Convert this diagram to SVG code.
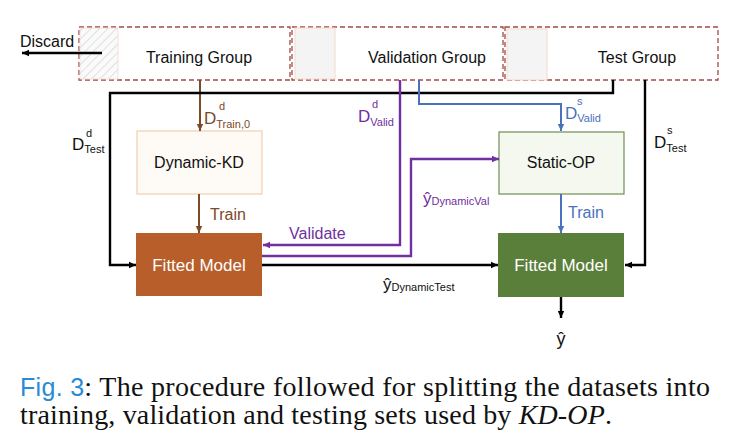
<svg xmlns="http://www.w3.org/2000/svg" width="745" height="445" viewBox="0 0 745 445">
<style>
.lbl{font-family:"Liberation Sans",Arial,sans-serif;font-size:16px;fill:#111}
.grp{fill:#fff;stroke:#a34a44;stroke-width:1.3;stroke-dasharray:5 3}
.inner{fill:#f4f4f4;stroke:#f6d9cc;stroke-width:1}
.blk{fill:none;stroke:#000;stroke-width:2.4}
.brn{fill:none;stroke:#7b4a28;stroke-width:2}
.pur{fill:none;stroke:#7030a0;stroke-width:2.4}
.blu{fill:none;stroke:#4a72bc;stroke-width:2}
.sub{font-size:11px}
.sup{font-size:11px}
.dl{font-size:17px}
.cap{font-family:"Liberation Serif","Times New Roman",serif;font-size:28px;fill:#111}
</style>
<defs>
<pattern id="hatch" width="6" height="6" patternUnits="userSpaceOnUse" patternTransform="rotate(45)">
<rect width="6" height="6" fill="#fafafa"/>
<line x1="0" y1="0" x2="0" y2="6" stroke="#cfcfcf" stroke-width="1.2"/>
</pattern>
<marker id="ak" markerWidth="8" markerHeight="8" refX="7" refY="4" orient="auto" markerUnits="userSpaceOnUse"><path d="M0,0.8 L7,4 L0,7.2 z" fill="#000"/></marker>
<marker id="ab" markerWidth="8" markerHeight="8" refX="7" refY="4" orient="auto" markerUnits="userSpaceOnUse"><path d="M0,0.8 L7,4 L0,7.2 z" fill="#7b4a28"/></marker>
<marker id="ap" markerWidth="8" markerHeight="8" refX="7" refY="4" orient="auto" markerUnits="userSpaceOnUse"><path d="M0,0.8 L7,4 L0,7.2 z" fill="#7030a0"/></marker>
<marker id="au" markerWidth="8" markerHeight="8" refX="7" refY="4" orient="auto" markerUnits="userSpaceOnUse"><path d="M0,0.8 L7,4 L0,7.2 z" fill="#4a72bc"/></marker>
</defs>
<rect width="745" height="445" fill="#fff"/>

<g id="training-group">
<rect class="grp" x="79" y="27" width="211" height="53"/>
<rect x="80" y="28" width="38" height="51" fill="url(#hatch)" stroke="#f6d9cc" stroke-width="0.8"/>
<text class="lbl" x="199" y="63" text-anchor="middle">Training Group</text>
</g>
<g id="validation-group">
<rect class="grp" x="292" y="27" width="211" height="53"/>
<rect class="inner" x="295" y="28" width="40" height="51"/>
<text class="lbl" x="427" y="63" text-anchor="middle">Validation Group</text>
</g>
<g id="test-group">
<rect class="grp" x="505" y="27" width="213" height="53"/>
<rect class="inner" x="507" y="29" width="40" height="51"/>
<text class="lbl" x="637" y="63" text-anchor="middle">Test Group</text>
</g>
<g id="discard">
<text class="lbl" x="20" y="47">Discard</text>
</g>
<g id="dynamic-kd">
<rect x="137" y="131" width="125" height="63" fill="#fefaf6" stroke="#f2cfae" stroke-width="1.2"/>
<text class="lbl" x="199" y="168" text-anchor="middle">Dynamic-KD</text>
</g>
<g id="static-op">
<rect x="499" y="132" width="125" height="62" fill="#f4f8ee" stroke="#6e8f55" stroke-width="1.2"/>
<text class="lbl" x="561" y="168" text-anchor="middle">Static-OP</text>
</g>
<g id="fitted-model-dynamic">
<rect x="136" y="233" width="126" height="63" fill="#b85e2b"/>
<text class="lbl" x="199" y="271" text-anchor="middle" style="fill:#fff;font-size:17px">Fitted Model</text>
</g>
<g id="fitted-model-static">
<rect x="498" y="233" width="126" height="64" fill="#5a7f3a"/>
<text class="lbl" x="561" y="271" text-anchor="middle" style="fill:#fff;font-size:17px">Fitted Model</text>
</g>
<g id="output">
<text class="lbl" x="561" y="345" text-anchor="middle" style="font-size:18px">ŷ</text>
</g>

<g id="connectors">
<path class="blk" d="M102,53 H22" marker-end="url(#ak)"/>
<path class="brn" d="M200,80 V131" marker-end="url(#ab)"/>
<path class="brn" d="M199,194 V233" marker-end="url(#ab)"/>
<path class="blk" d="M613,80 V93 H110 V265 H136" marker-end="url(#ak)"/>
<path class="blk" d="M645,80 V265 H625" marker-end="url(#ak)"/>
<path class="blk" d="M262,265 H498" marker-end="url(#ak)"/>
<path class="blk" d="M561,297 V318" marker-end="url(#ak)"/>
<path class="pur" d="M400,80 V245 H263" marker-end="url(#ap)"/>
<path class="pur" d="M262,256 H411 V159 H499" marker-end="url(#ap)"/>
<path class="blu" d="M419,80 V104 H561 V131" marker-end="url(#au)"/>
<path class="blu" d="M561,194 V233" marker-end="url(#au)"/>
</g>

<g id="labels">
<text class="lbl dl" x="204" y="124" style="fill:#7b4a28">D<tspan class="sub" dy="4">Train,0</tspan></text>
<text class="lbl sup" x="219" y="110" style="fill:#7b4a28">d</text>
<text class="lbl" x="210" y="220" style="fill:#7b4a28">Train</text>
<text class="lbl dl" x="72" y="150">D<tspan class="sub" dy="3">Test</tspan></text>
<text class="lbl sup" x="86" y="137">d</text>
<text class="lbl dl" x="358" y="122" style="fill:#7030a0">D<tspan class="sub" dy="4">Valid</tspan></text>
<text class="lbl sup" x="372" y="108" style="fill:#7030a0">d</text>
<text class="lbl" x="289" y="239" style="fill:#7030a0">Validate</text>
<text class="lbl" x="423" y="204" style="fill:#7030a0;font-size:17px">ŷ<tspan class="sub" dy="1">DynamicVal</tspan></text>
<text class="lbl dl" x="565" y="119" style="fill:#4a72bc">D<tspan class="sub" dy="3">Valid</tspan></text>
<text class="lbl sup" x="577" y="105" style="fill:#4a72bc">s</text>
<text class="lbl" x="568" y="218" style="fill:#4a72bc">Train</text>
<text class="lbl dl" x="654" y="148">D<tspan class="sub" dy="4">Test</tspan></text>
<text class="lbl sup" x="667" y="134">s</text>
<text class="lbl" x="383" y="290" style="font-size:17px">ŷ<tspan class="sub" dy="1">DynamicTest</tspan></text>
</g>

<g id="caption">
<text class="cap" x="20" y="396" textLength="690" lengthAdjust="spacing"><tspan style="font-family:'Liberation Sans',Arial,sans-serif;fill:#2a8ad4;font-size:25px">Fig. 3</tspan>: The procedure followed for splitting the datasets into</text>
<text class="cap" x="20" y="424" textLength="592" lengthAdjust="spacing">training, validation and testing sets used by <tspan font-style="italic">KD-OP</tspan>.</text>
</g>
</svg>
